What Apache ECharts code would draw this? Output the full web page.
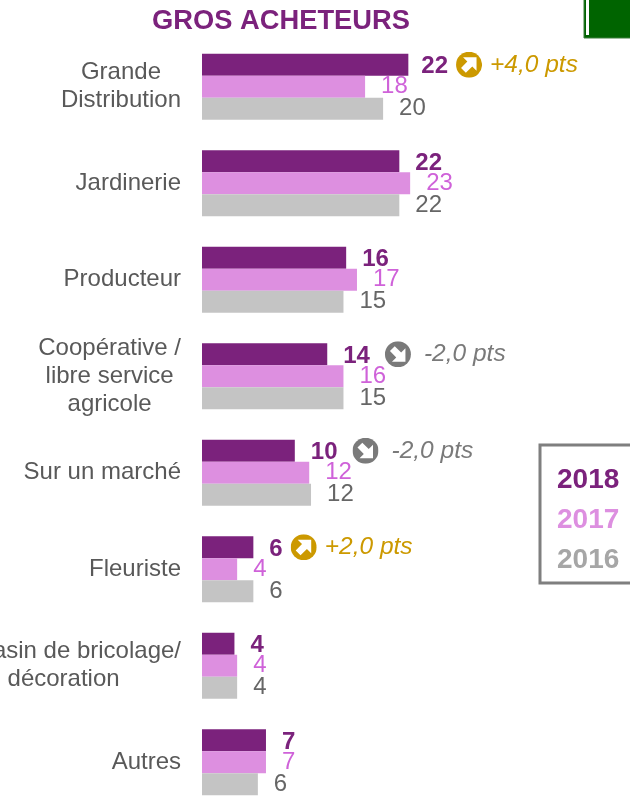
<!DOCTYPE html>
<html><head><meta charset="utf-8">
<style>html,body{margin:0;padding:0;background:#fff;overflow:hidden}#c{width:630px;height:796px}</style>
<script src="https://cdn.jsdelivr.net/npm/echarts@6/dist/echarts.min.js"></script>
</head><body><div id="c"></div>
<script>
const categories = ['Grande\nDistribution','Jardinerie','Producteur','Coopérative /\nlibre service\nagricole','Sur un marché','Fleuriste','Magasin de bricolage/\ndécoration','Autres'];
const bars2018 = [22.9,21.9,16,13.9,10.3,5.7,3.6,7.1];
const bars2017 = [18.1,23.1,17.2,15.7,11.9,3.9,3.9,7.1];
const bars2016 = [20.1,21.9,15.7,15.7,12.1,5.7,3.9,6.2];
const labels2018 = [22,22,16,14,10,6,4,7];
const labels2017 = [18,23,17,16,12,4,4,7];
const labels2016 = [20,22,15,15,12,6,4,6];
const deltas = ['+4,0 pts','','','-2,0 pts','-2,0 pts','+2,0 pts','',''];
const FONT = '"Liberation Sans", Arial, sans-serif';
const PURPLE='#7b227c', PINK='#dd8fe0', GREY='#c4c4c4', GOLD='#cc9900', DGREY='#7a7a7a';

function icon(color, up){
  const path = '<path d="M7 5.5 H20.5 V19 L16.2 14.7 L9.8 21 L5 16.2 L11.3 9.8 Z" fill="#fff"'+(up?'':' transform="rotate(90 13 13)"')+'/>';
  const svg = '<svg xmlns="http://www.w3.org/2000/svg" width="26" height="26" viewBox="0 0 26 26"><circle cx="13" cy="13" r="13" fill="'+color+'"/>'+path+'</svg>';
  return 'data:image/svg+xml;charset=utf-8,'+encodeURIComponent(svg);
}

const chart = echarts.init(document.getElementById('c'));
chart.setOption({
  animation:false,
  backgroundColor:'#fff',
  title:{text:'GROS ACHETEURS',left:276,textAlign:'center',top:3,
    textStyle:{fontFamily:FONT,fontSize:27.3,fontWeight:'bold',color:PURPLE}},
  legend:{
    left:540,top:445,orient:'vertical',selectedMode:false,
    icon:'rect',itemWidth:0,itemHeight:0,itemGap:12,
    padding:[21,30,9,12],borderColor:'#7f7f7f',borderWidth:3,
    textStyle:{fontFamily:FONT,fontSize:28,fontWeight:'bold',padding:0},
    data:[
      {name:'2018',textStyle:{color:PURPLE}},
      {name:'2017',textStyle:{color:PINK}},
      {name:'2016',textStyle:{color:'#a6a6a6'}}
    ]
  },
  grid:{left:202,top:38.5,width:428,height:772,containLabel:false,outerBoundsMode:'none'},
  xAxis:{type:'value',min:0,max:47.5,show:false},
  yAxis:{type:'category',inverse:true,data:categories,
    axisLine:{show:false},axisTick:{show:false},
    axisLabel:{margin:21,align:'right',
      formatter:v=>v.split('\n').map(s=>'{c|'+s+'}').join('\n'),
      rich:{c:{fontFamily:FONT,fontSize:24,color:'#595959',lineHeight:28,align:'center'}}}
  },
  graphic:[
    {type:'rect',shape:{x:584,y:-2,width:50,height:40},style:{fill:'#006400',stroke:'#3c7f3c',lineWidth:1}},
    {type:'rect',shape:{x:586,y:-2,width:3,height:37},style:{fill:'#ffffff'}}
  ],
  series:[
    {name:'2018',type:'bar',barWidth:22,barGap:'0%',itemStyle:{color:PURPLE},
     data:bars2018.map((v,i)=>{
       const d=deltas[i], up=d[0]==='+', has=!!d;
       const vKey = !has ? 'v' : (up ? 'vu' : 'vd');
       return {value:v,label:{
         formatter:'{'+vKey+'|'+labels2018[i]+'}'+(has?('{'+(up?'u':'d')+'|}{'+(up?'tu':'td')+'|'+d+'}'):''),
         distance:i===0?13:16
       }};
     }),
     label:{show:true,position:'right',color:PURPLE,
       rich:{
         v:{fontFamily:FONT,fontSize:24,fontWeight:'bold',color:PURPLE,padding:[4,0,0,0]},
         vu:{fontFamily:FONT,fontSize:24,fontWeight:'bold',color:PURPLE,padding:[4,8,0,0]},
         vd:{fontFamily:FONT,fontSize:24,fontWeight:'bold',color:PURPLE,padding:[4,15,0,0]},
         u:{width:26,height:26,backgroundColor:{image:icon(GOLD,true)}},
         d:{width:26,height:26,backgroundColor:{image:icon(DGREY,false)}},
         tu:{fontFamily:FONT,fontSize:24.5,fontStyle:'italic',color:GOLD,padding:[0,0,0,8]},
         td:{fontFamily:FONT,fontSize:24.5,fontStyle:'italic',color:DGREY,padding:[0,0,0,13]}
       }}},
    {name:'2017',type:'bar',barWidth:22,itemStyle:{color:PINK},
     data:bars2017.map((v,i)=>({value:v,label:{formatter:String(labels2017[i])}})),
     label:{show:true,position:'right',distance:16,fontFamily:FONT,fontSize:24,color:'#cf62d9'}},
    {name:'2016',type:'bar',barWidth:22,itemStyle:{color:GREY},
     data:bars2016.map((v,i)=>({value:v,label:{formatter:String(labels2016[i])}})),
     label:{show:true,position:'right',distance:16,fontFamily:FONT,fontSize:24,color:'#666666'}}
  ]
});
</script></body></html>
